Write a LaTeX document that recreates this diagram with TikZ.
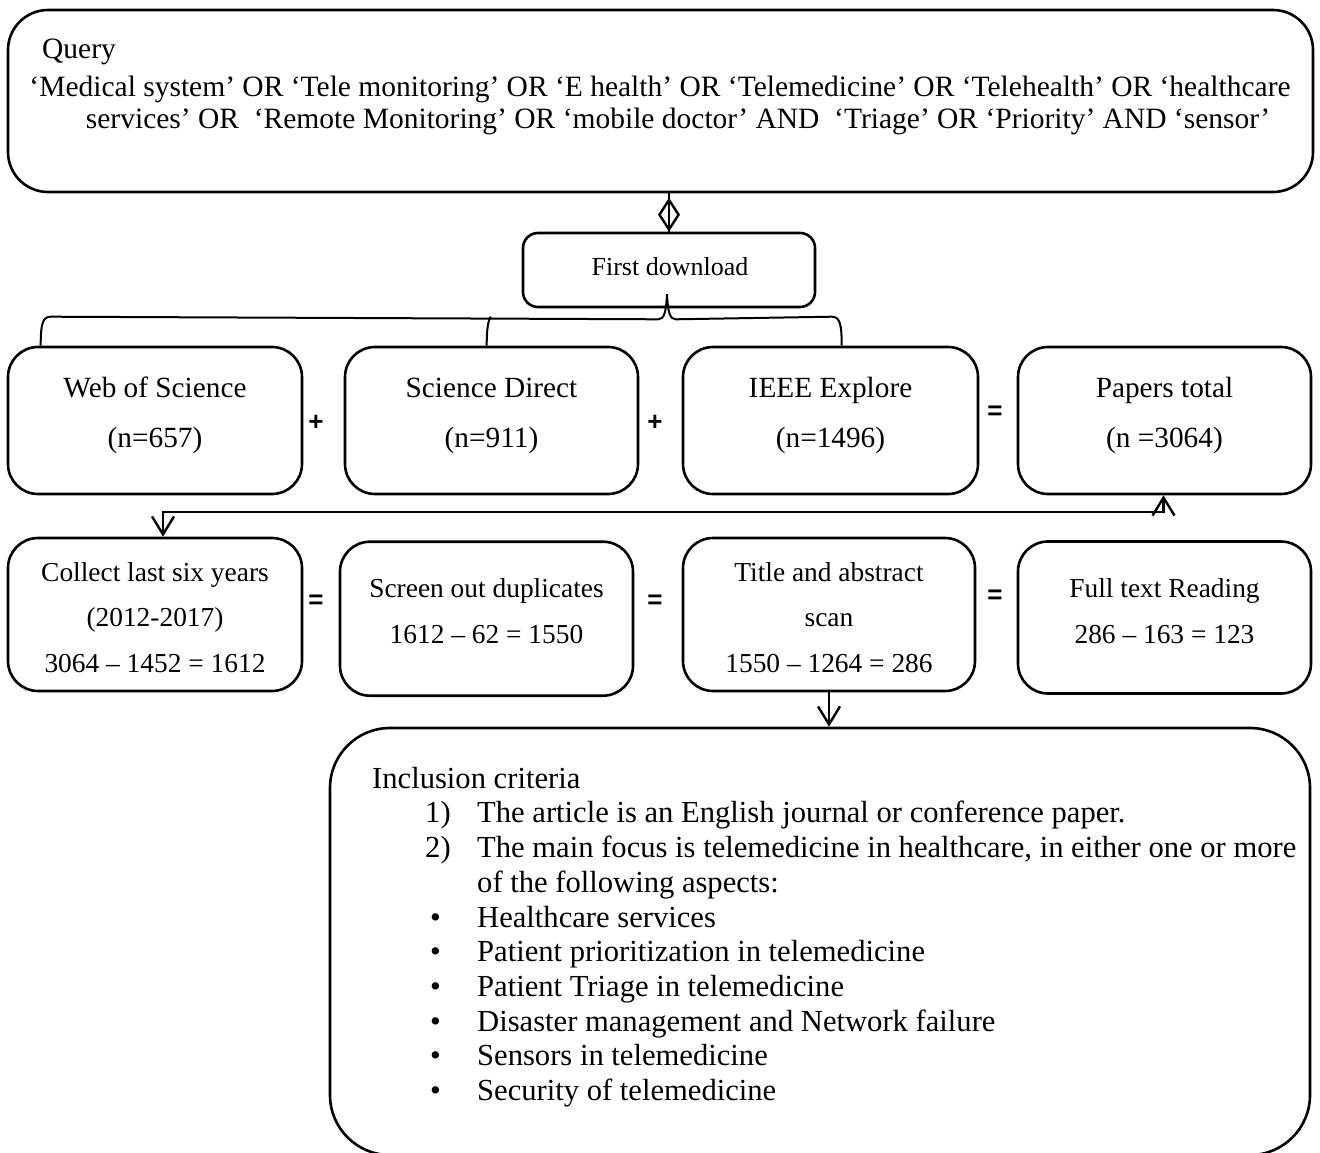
\documentclass[tikz,border=0pt]{standalone}
\usepackage{fontspec}
\setmainfont{Liberation Serif}
\newfontfamily\signfont{Liberation Sans}
\usetikzlibrary{arrows.meta,calc}
\tikzset{
  box/.style={draw, line width=2.6pt, rounded corners=30pt, inner sep=0pt},
  qfont/.style={font=\fontsize{29.5}{32}\selectfont, inner sep=0pt},
  rowa/.style={font=\fontsize{29.3}{50}\selectfont, inner sep=0pt, align=center},
  rowb/.style={font=\fontsize{27.4}{45.5}\selectfont, inner sep=0pt, align=center},
  sign/.style={font=\signfont\bfseries\fontsize{26}{26}\selectfont, inner sep=0pt},
  conn/.style={line width=2.4pt},
  vtip/.style={Straight Barb[length=18pt,width=22pt]}
}
\begin{document}
\begin{tikzpicture}[x=1pt,y=-1pt]
\useasboundingbox (0,0) rectangle (1320,1153);
% query
\node[box, rounded corners=40pt, minimum width=1305pt, minimum height=182pt] (q) at (660.5,101) {};
\node[qfont, anchor=base west] (qt) at (42,59) {Query};
\node[qfont, anchor=base] (ql1) at (660,97) {‘Medical system’ OR ‘Tele monitoring’ OR ‘E health’ OR ‘Telemedicine’ OR ‘Telehealth’ OR ‘healthcare};
\node[qfont, anchor=base] (ql2) at (678,129) {services’ OR\ \ ‘Remote Monitoring’ OR ‘mobile doctor’ AND\ \ ‘Triage’ OR ‘Priority’ AND ‘sensor’};
% first download
\node[box, rounded corners=15pt, minimum width=292pt, minimum height=74pt] (fd) at (669,270) {};
\node[font=\fontsize{26}{30}\selectfont, inner sep=0pt, anchor=base] (fdt) at (670,275) {First download};
% row 1
\node[box, minimum width=294pt, minimum height=147pt] (wos) at (155,420.5) {};
\node[box, minimum width=293pt, minimum height=147pt] (sd) at (491.5,420.5) {};
\node[box, minimum width=295pt, minimum height=147pt] (ieee) at (830.5,420.5) {};
\node[box, minimum width=293pt, minimum height=147pt] (papers) at (1164.5,420.5) {};
\node[rowa] (wost) at (155,412) {\strut Web of Science\\\strut (n=657)};
\node[rowa] (sdt) at (491.5,412) {\strut Science Direct\\\strut (n=911)};
\node[rowa] (ieeet) at (830.5,412) {\strut IEEE Explore\\\strut (n=1496)};
\node[rowa] (paperst) at (1164.5,412) {\strut Papers total\\\strut (n =3064)};
\node[sign] (s1) at (316,423) {+};
\node[sign] (s2) at (655,423) {+};
\node[sign] (s3) at (995,413) {=};
% row 2
\node[box, minimum width=294pt, minimum height=153pt] (coll) at (155,614.5) {};
\node[box, minimum width=293pt, minimum height=154pt] (screen) at (486.5,618.7) {};
\node[box, minimum width=292pt, minimum height=153pt] (title) at (829,614.5) {};
\node[box, minimum width=293pt, minimum height=152pt] (full) at (1164.5,617.5) {};
\node[rowb] (collt) at (155,617.4) {\strut Collect last six years\\\strut (2012-2017)\\\strut 3064 – 1452 = 1612};
\node[rowb] (screent) at (486.5,611.2) {\strut Screen out duplicates\\\strut 1612 – 62 = 1550};
\node[rowb] (titlet) at (829,617.4) {\strut Title and abstract\\\strut scan\\\strut 1550 – 1264 = 286};
\node[rowb] (fullt) at (1164.5,611.2) {\strut Full text Reading\\\strut 286 – 163 = 123};
\node[sign] (s4) at (316,602) {=};
\node[sign] (s5) at (655,602) {=};
\node[sign] (s6) at (995,597) {=};
% inclusion box
\node[box, rounded corners=60pt, minimum width=980pt, minimum height=427pt] (incl) at (820,941.5) {};
\node[font=\fontsize{30.6}{34.7}\selectfont, align=left, anchor=north west, inner sep=0pt] (inct) at (372,763.7) {\strut Inclusion criteria\\
\strut\makebox[105pt][l]{\hspace*{53pt}1)}The article is an English journal or conference paper.\\
\strut\makebox[105pt][l]{\hspace*{53pt}2)}The main focus is telemedicine in healthcare, in either one or more\\
\strut\hspace*{105pt}of the following aspects:\\
\strut\makebox[105pt][l]{\hspace*{58pt}•}Healthcare services\\
\strut\makebox[105pt][l]{\hspace*{58pt}•}Patient prioritization in telemedicine\\
\strut\makebox[105pt][l]{\hspace*{58pt}•}Patient Triage in telemedicine\\
\strut\makebox[105pt][l]{\hspace*{58pt}•}Disaster management and Network failure\\
\strut\makebox[105pt][l]{\hspace*{58pt}•}Sensors in telemedicine\\
\strut\makebox[105pt][l]{\hspace*{58pt}•}Security of telemedicine};
% diamond connector
\draw[conn] (fd.north |- q.south) -- (fd.north);
\draw[conn, -{Diamond[open,length=34pt,width=22pt]}] (fd.north |- q.south) -- (fd.north);
% brace
\coordinate (bl) at ($(wos.north west)+(34,0)$);
\coordinate (br) at ($(ieee.north west)+(160,0)$);
\coordinate (bm) at ($(sd.north west)+(143,0)$);
\coordinate (tip) at ($(fd.south)+(-2,-14)$);
\draw[line width=2pt] (bl) .. controls ($(bl)+(0,-22)$) and ($(bl)+(2,-29)$) .. ($(bl)+(10,-29)$)
  -- ($(tip)+(-9,25)$) .. controls ($(tip)+(-3,25)$) and ($(tip)+(-1,19)$) .. (tip)
  .. controls ($(tip)+(1,19)$) and ($(tip)+(3,25)$) .. ($(tip)+(9,25)$)
  -- ($(br)+(-10,-29)$) .. controls ($(br)+(-2,-29)$) and ($(br)+(0,-22)$) .. (br);
\draw[line width=2pt] (bm) .. controls ($(bm)+(0,-15)$) and ($(bm)+(1,-24)$) .. ($(bm)+(4,-29)$);
% elbow connector
\draw[conn, {Straight Barb[length=18pt,width=22pt]}-{Straight Barb[length=18pt,width=22pt]}] ([xshift=8pt]coll.north) -- ++(0,-25) -| ([xshift=-1pt]papers.south);
% title to inclusion
\draw[conn, -{Straight Barb[length=18pt,width=22pt]}] (title.south) -- (title.south |- incl.north);
\end{tikzpicture}
\end{document}
